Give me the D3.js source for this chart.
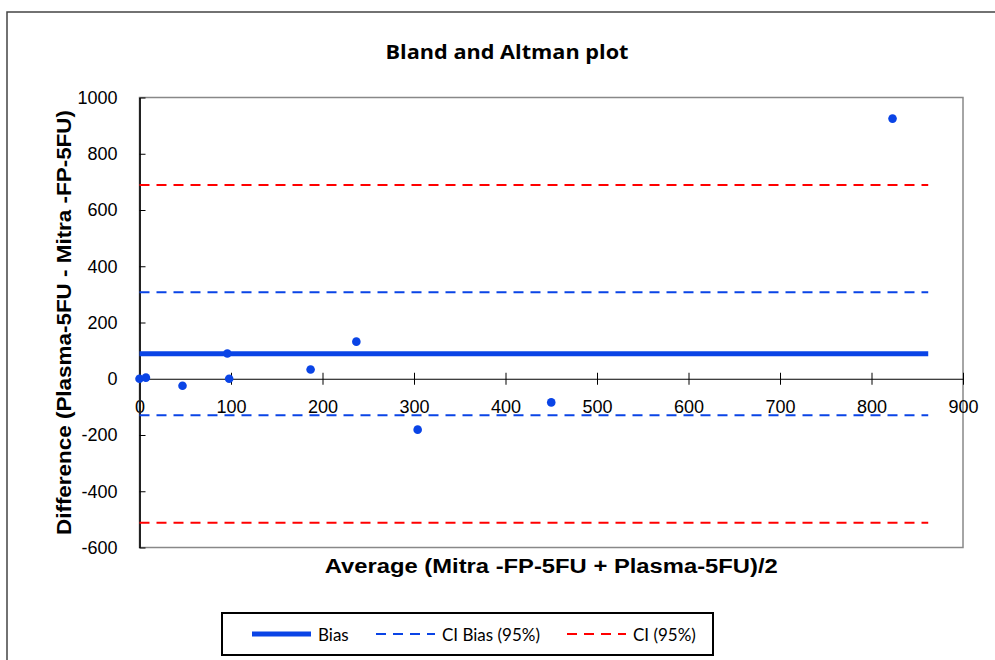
<!DOCTYPE html>
<html lang="en">
<head>
<meta charset="UTF-8">
<title>Bland and Altman plot</title>
<script src="https://d3js.org/d3.v7.min.js"></script>
<style>
    body { margin: 0; background: #fff; }
    svg { display: block; }
</style>
</head>
<body>
<svg width="995" height="660"></svg>
<script>
    var average = [0, 7, 47, 96, 98, 187, 237, 304, 450, 823];
    var difference = [0, 4, -25, 90, 0, 33, 132, -181, -84, 925];

    var bias = 89;
    var ciBias = [-130, 308];
    var ci = [-512, 689];
    var lineExtent = [0, 862];

    var xTicks = [0, 100, 200, 300, 400, 500, 600, 700, 800, 900];
    var yTicks = [-600, -400, -200, 0, 200, 400, 600, 800, 1000];

    var legendNames = ["Bias", "CI Bias (95%)", "CI (95%)"];

    var svg = d3.select("svg");
    var blue = "#0a44e6", red = "#ff0000";
    var arial = "'Liberation Sans', Arial, sans-serif";

    // outer chart frame (runs off the picture on the right and bottom)
    svg.append("rect")
        .attr("x", 7).attr("y", 12)
        .attr("width", 1010).attr("height", 680)
        .attr("fill", "none").attr("stroke", "#444").attr("stroke-width", 1.5);

    var xScale = d3.scaleLinear().domain([0, 900]).range([139.5, 963]);
    var yScale = d3.scaleLinear().domain([-600, 1000]).range([547.5, 97.5]);

    // plot area border
    svg.append("rect")
        .attr("x", xScale(0)).attr("y", yScale(1000))
        .attr("width", xScale(900) - xScale(0))
        .attr("height", yScale(-600) - yScale(1000))
        .attr("fill", "none").attr("stroke", "#888").attr("stroke-width", 1.5);

    var fmt = function (d) { return String(d) };

    // x axis sits on zero, ticks cross the line
    var xAxis = d3.axisBottom(xScale).tickValues(xTicks).tickFormat(fmt)
        .tickSize(6).tickSizeOuter(0).tickPadding(15);
    var xg = svg.append("g").attr("transform", "translate(0," + yScale(0) + ")").call(xAxis)
        .attr("font-size", 18).attr("font-family", arial);
    xg.select(".domain").attr("stroke", "#000").attr("stroke-width", 1);
    xg.selectAll(".tick line").attr("y1", -6).attr("stroke", "#000");

    var yAxis = d3.axisLeft(yScale).tickValues(yTicks).tickFormat(fmt)
        .tickSize(6).tickSizeOuter(0).tickPadding(16);
    var yg = svg.append("g").attr("transform", "translate(" + xScale(0) + ",0)").call(yAxis)
        .attr("font-size", 18).attr("font-family", arial);
    yg.select(".domain").attr("stroke", "#222").attr("stroke-width", 2);
    yg.selectAll(".tick line").attr("x2", 6).attr("stroke", "#000");

    // reference lines
    function hline(v, color, width, dash) {
        svg.append("line")
            .attr("x1", xScale(lineExtent[0])).attr("x2", xScale(lineExtent[1]))
            .attr("y1", yScale(v)).attr("y2", yScale(v))
            .attr("stroke", color).attr("stroke-width", width)
            .attr("stroke-dasharray", dash);
    }
    hline(ci[0], red, 2, "10,7");
    hline(ci[1], red, 2, "10,7");
    hline(ciBias[0], blue, 2, "10,7");
    hline(ciBias[1], blue, 2, "10,7");
    hline(bias, blue, 5, null);

    svg.selectAll("circle.pt")
        .data(average)
        .enter()
        .append("circle")
        .attr("class", "pt")
        .attr("r", 4.3)
        .attr("cx", function (d) { return xScale(d) })
        .attr("cy", function (d, i) { return yScale(difference[i]) })
        .attr("fill", blue);

    // titles
    svg.append("text")
        .attr("x", 507).attr("y", 59)
        .attr("text-anchor", "middle")
        .attr("textLength", 243).attr("lengthAdjust", "spacingAndGlyphs")
        .style("font-family", "'Open Sans', Lato, sans-serif")
        .style("font-weight", "bold").style("font-size", "19px")
        .text("Bland and Altman plot");

    svg.append("text")
        .attr("x", (xScale(0) + xScale(900)) / 2).attr("y", 573)
        .attr("text-anchor", "middle")
        .attr("textLength", 453).attr("lengthAdjust", "spacingAndGlyphs")
        .style("font-family", arial)
        .style("font-weight", "bold").style("font-size", "20px")
        .text("Average (Mitra -FP-5FU + Plasma-5FU)/2");

    svg.append("text")
        .attr("transform", "translate(71," + (yScale(-600) + yScale(1000)) / 2 + ") rotate(-90)")
        .attr("text-anchor", "middle")
        .attr("textLength", 425).attr("lengthAdjust", "spacingAndGlyphs")
        .style("font-family", arial)
        .style("font-weight", "bold").style("font-size", "20px")
        .text("Difference (Plasma-5FU - Mitra -FP-5FU)");

    // legend
    svg.append("rect")
        .attr("x", 222).attr("y", 613).attr("width", 491).attr("height", 42)
        .attr("fill", "#fff").attr("stroke", "#000").attr("stroke-width", 2);

    var legendX = [252, 376, 567];
    var legendColor = [blue, blue, red];
    var legendWidth = [5, 2, 2];
    var legendDash = [null, "10,7", "10,7"];
    legendNames.forEach(function (name, i) {
        svg.append("line")
            .attr("x1", legendX[i]).attr("x2", legendX[i] + 59)
            .attr("y1", 634).attr("y2", 634)
            .attr("stroke", legendColor[i]).attr("stroke-width", legendWidth[i])
            .attr("stroke-dasharray", legendDash[i]);
        svg.append("text")
            .attr("x", legendX[i] + 66).attr("y", 641)
            .style("font-family", "Lato, 'Open Sans', sans-serif")
            .style("font-size", "17px")
            .text(name);
    });
</script>
</body>
</html>
